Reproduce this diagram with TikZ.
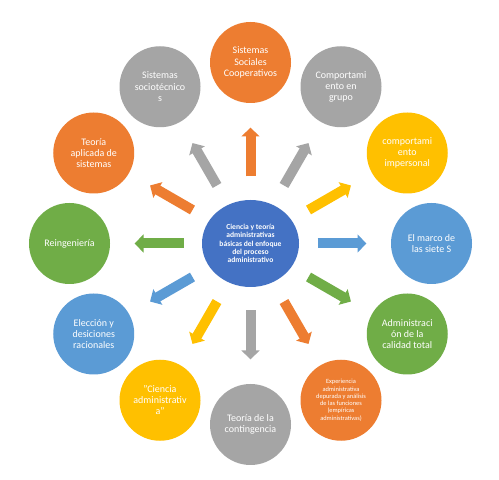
\documentclass[tikz,border=0pt]{standalone}
\usepackage{fontspec}
\setmainfont{Carlito}
\usetikzlibrary{arrows.meta,calc,shapes.geometric}
\definecolor{cOrange}{HTML}{ED7D31}
\definecolor{cGray}{HTML}{A5A5A5}
\definecolor{cYellow}{HTML}{FFC000}
\definecolor{cBlue}{HTML}{5B9BD5}
\definecolor{cGreen}{HTML}{70AD47}
\definecolor{cDark}{HTML}{4472C4}
\begin{document}
\begin{tikzpicture}[x=1pt,y=1pt,
  bub/.style={circle,fill=#1,minimum size=81pt,inner sep=0pt,text=white,align=center,
    font=\fontsize{10}{11.2}\selectfont},
  arr/.style={draw=#1,line width=10pt,-{Triangle[width=17.5pt,length=9pt]}}]
\useasboundingbox[fill=white] (0,0) rectangle (499,480);
\node (c) [ellipse,fill=cDark,minimum width=97pt,minimum height=87pt,inner sep=0pt,
  text=white,align=center,font=\bfseries\fontsize{7.6}{8.4}\selectfont]
  at (250.5,236.5) {Ciencia y teoría\\administrativas\\básicas del enfoque\\del proceso\\administrativo};
\node[bub=cOrange] (n1) at ($(c)+(90:181)$) {Sistemas\\Sociales\\Cooperativos};
\node[bub=cGray] (n2) at ($(c)+(60:181)$) {Comportami\\ento en\\grupo};
\node[bub=cYellow] (n3) at ($(c)+(30:181)$) {comportami\\ento\\impersonal};
\node[bub=cBlue] (n4) at ($(c)+(0:181)$) {El marco de\\las siete S};
\node[bub=cGreen] (n5) at ($(c)+(-30:181)$) {Administraci\\ón de la\\calidad total};
\node[bub=cOrange,font=\fontsize{6.4}{7.3}\selectfont] (n6) at ($(c)+(-60:181)$) {Experiencia\\administrativa\\depurada y análisis\\de las funciones\\(empíricas\\administrativas)};
\node[bub=cGray] (n7) at ($(c)+(-90:181)$) {Teoría de la\\contingencia};
\node[bub=cYellow] (n8) at ($(c)+(-120:181)$) {"Ciencia\\administrativ\\a"};
\node[bub=cBlue] (n9) at ($(c)+(-150:181)$) {Elección y\\desiciones\\racionales};
\node[bub=cGreen] (n10) at ($(c)+(180:181)$) {Reingeniería};
\node[bub=cOrange] (n11) at ($(c)+(150:181)$) {Teoría\\aplicada de\\sistemas};
\node[bub=cGray] (n12) at ($(c)+(120:181)$) {Sistemas\\sociotécnico\\s};
\foreach \n/\col in {n1/cOrange,n2/cGray,n3/cYellow,n4/cBlue,n5/cGreen,n6/cOrange,
  n7/cGray,n8/cYellow,n9/cBlue,n10/cGreen,n11/cOrange,n12/cGray}
  \draw[arr=\col] ($(c)!67pt!(\n)$) -- ($(c)!116pt!(\n)$);
\end{tikzpicture}
\end{document}
